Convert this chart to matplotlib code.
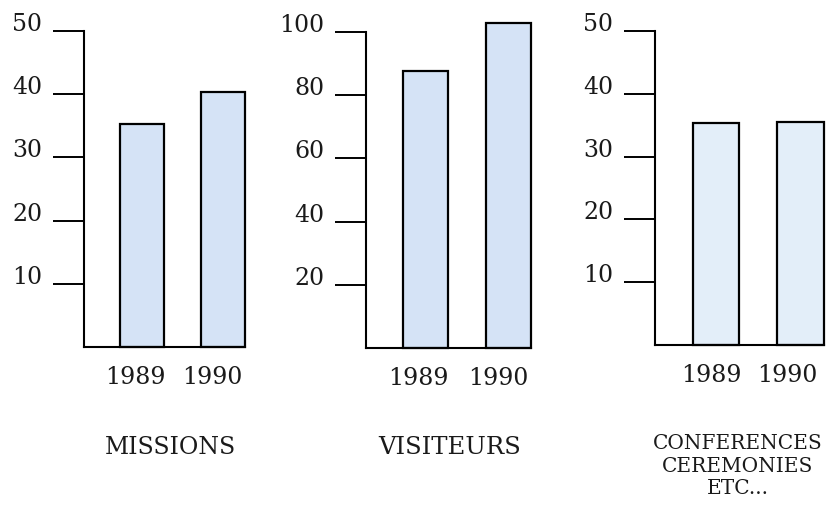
import matplotlib
matplotlib.use("Agg")
from matplotlib import pyplot as plt
from matplotlib.transforms import ScaledTranslation

years = ["1989", "1990"]
missions = [35.3, 40.3]
visiteurs = [87.6, 103.0]
conferences = [35.3, 35.5]
titles = ["MISSIONS", "VISITEURS", "CONFERENCES\nCEREMONIES\nETC..."]
yticks_small = [10, 20, 30, 40, 50]
yticks_big = [20, 40, 60, 80, 100]

W, H = 828, 509
plt.rcParams['font.family'] = ['DejaVu Serif']

fig = plt.figure(figsize=[W / 100, H / 100], dpi=100)

# axes boxes in pixels: left, right, top, bottom
boxes = [(84, 245, 31, 347), (366, 531, 32, 348), (655, 824, 31, 345)]
series = [missions, visiteurs, conferences]
ticks = [yticks_small, yticks_big, yticks_small]
fills = ["#d5e3f6", "#d5e3f6", "#e3eef9"]
title_pos = [(171, 448), (450, 448), (738, 466)]
title_size = [17, 17.5, 14.5]
year_shift = [(-7, -10), (-7, -10), (-5, -13)]

bar_w = 0.55
for i, ((l, r, t, b), vals, tk, col) in enumerate(zip(boxes, series, ticks, fills)):
    ax = fig.add_axes([l / W, 1 - b / H, (r - l) / W, (b - t) / H])
    ax.bar(range(len(years)), vals, width=bar_w, color=col,
           edgecolor="black", linewidth=1.6, clip_on=False)
    ax.set_xlim(-0.72, 1 + bar_w / 2)
    ax.set_ylim(0, tk[-1])
    ax.set_yticks(tk)
    ax.set_yticklabels([str(v) for v in tk], fontsize=17, color="#1a1a1a")
    for lab in ax.get_yticklabels():
        lab.set_verticalalignment("baseline")
    ax.tick_params(axis="y", length=22, width=1.4, pad=8, direction="out")
    ax.set_xticks(range(len(years)))
    ax.set_xticklabels(years, fontsize=17, color="#1a1a1a")
    ax.tick_params(axis="x", length=0, pad=14)
    # year labels sit a little left of the bar centres
    for lab, dx in zip(ax.get_xticklabels(), year_shift[i]):
        lab.set_transform(lab.get_transform() + ScaledTranslation(dx / 100, 0, fig.dpi_scale_trans))
    for s in ["top", "right"]:
        ax.spines[s].set_visible(False)
    for s in ["left", "bottom"]:
        ax.spines[s].set_linewidth(1.5)
    ax.patch.set_alpha(0)
    tx, ty = title_pos[i]
    fig.text(tx / W, 1 - ty / H, titles[i], ha="center", va="center",
             fontsize=title_size[i], color="#1a1a1a", linespacing=1.25)

plt.savefig("out.png", dpi=100)
